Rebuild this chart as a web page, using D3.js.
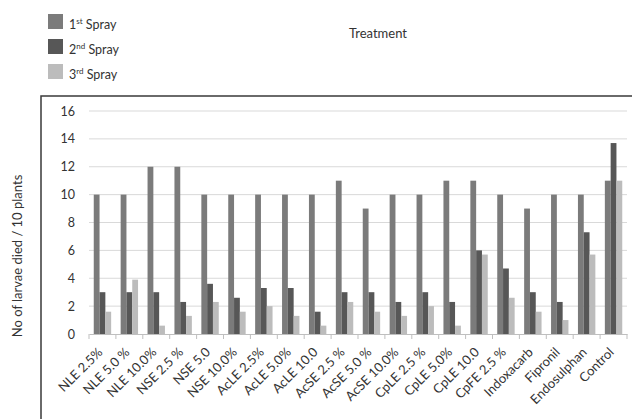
<!DOCTYPE html>
<html><head><meta charset="utf-8">
<script src="https://cdn.jsdelivr.net/npm/d3@7"></script>
<style>
body{margin:0;background:#fff;}
svg{display:block;font-family:Lato,"Open Sans",sans-serif;}
</style></head>
<body>
<script>
const categories = ["NLE 2.5%","NLE 5.0 %","NLE 10.0%","NSE 2.5 %","NSE 5.0","NSE 10.0%","AcLE 2.5%","AcLE 5.0%","AcLE 10.0","AcSE 2.5 %","AcSE 5.0 %","AcSE 10.0%","CpLE 2.5 %","CpLE 5.0%","CpLE 10.0","CpFE 2.5 %","Indoxacarb","Fipronil","Endosulphan","Control"];
const spray1 = [10,10,12,12,10,10,10,10,10,11,9,10,10,11,11,10,9,10,10,11];
const spray2 = [3,3,3,2.3,3.6,2.6,3.3,3.3,1.6,3,3,2.3,3,2.3,6,4.7,3,2.3,7.3,13.7];
const spray3 = [1.6,3.9,0.6,1.3,2.3,1.6,2,1.3,0.6,2.3,1.6,1.3,2,0.6,5.7,2.6,1.6,1,5.7,11];
const seriesNames = [["1","st"," Spray"],["2","nd"," Spray"],["3","rd"," Spray"]];
const yTicks = [0,2,4,6,8,10,12,14,16];
const colors = ["#7b7b7b","#575757","#bcbcbc"];

const W = 632, H = 419;
const svg = d3.select("body").append("svg").attr("width", W).attr("height", H);

// chart border
svg.append("rect").attr("x",41).attr("y",96).attr("width",620).attr("height",360)
  .attr("fill","none").attr("stroke","#3a3a3a").attr("stroke-width",1.5);

const x0 = d3.scaleBand().domain(categories).range([89, 627]).paddingInner(0).paddingOuter(0);
const x1 = d3.scaleBand().domain([0,1,2]).range([0, 17.4]);
const y = d3.scaleLinear().domain([0,16]).range([334, 111]);

// gridlines
svg.append("g").selectAll("line").data(yTicks.filter(d=>d>0)).join("line")
  .attr("x1",89).attr("x2",627).attr("y1",d=>y(d)).attr("y2",d=>y(d))
  .attr("stroke","#d9d9d9").attr("stroke-width",1);

// y axis
const ya = svg.append("g").attr("transform","translate(89,0)")
  .call(d3.axisLeft(y).tickValues(yTicks).tickSize(0).tickPadding(14));
ya.select(".domain").remove();
ya.selectAll("text").attr("font-size",12.5).attr("fill","#333").attr("font-family","Lato,'Open Sans',sans-serif");

// bars
const data = categories.map((c,i)=>({c, v:[spray1[i],spray2[i],spray3[i]]}));
const off = (x0.bandwidth()-17.4)/2;
const g = svg.append("g");
g.selectAll("g").data(data).join("g")
  .attr("transform",d=>`translate(${x0(d.c)+off},0)`)
  .selectAll("rect").data(d=>d.v.map((v,k)=>({v,k}))).join("rect")
  .attr("x",d=>x1(d.k)).attr("width",x1.bandwidth())
  .attr("y",d=>y(d.v)).attr("height",d=>y(0)-y(d.v))
  .attr("fill",d=>colors[d.k]);

// x axis
const xa = svg.append("g").attr("transform","translate(0,334)")
  .call(d3.axisBottom(x0).tickSize(0).tickFormat(""));
xa.select(".domain").attr("stroke","#bfbfbf");
// tick marks at band boundaries
svg.append("g").selectAll("line").data(d3.range(categories.length+1)).join("line")
  .attr("x1",i=>89+i*x0.step()).attr("x2",i=>89+i*x0.step())
  .attr("y1",334).attr("y2",339).attr("stroke","#bfbfbf");
// labels
svg.append("g").selectAll("text").data(categories).join("text")
  .attr("transform",d=>`translate(${x0(d)+x0.bandwidth()/2+1},${353}) rotate(-45)`)
  .attr("text-anchor","end").attr("font-size",13).attr("fill","#333").text(d=>d);

// y label
svg.append("text").attr("transform","translate(22,256) rotate(-90)")
  .attr("text-anchor","middle").attr("font-size",13).attr("fill","#333")
  .text("No of larvae died / 10 plants");

// title
svg.append("text").attr("x",378).attr("y",38).attr("text-anchor","middle")
  .attr("font-size",13).attr("fill","#333").text("Treatment");

// legend
const lg = svg.append("g").selectAll("g").data(seriesNames).join("g")
  .attr("transform",(d,i)=>`translate(48,${14+i*25})`);
lg.append("rect").attr("width",15).attr("height",15).attr("fill",(d,i)=>colors[i]);
const lt = lg.append("text").attr("x",21).attr("y",15).attr("font-size",12.5).attr("fill","#333");
lt.append("tspan").text(d=>d[0]);
lt.append("tspan").attr("font-size",8).attr("dy",-5).text(d=>d[1]);
lt.append("tspan").attr("dy",5).text(d=>d[2]);
</script>
</body></html>
